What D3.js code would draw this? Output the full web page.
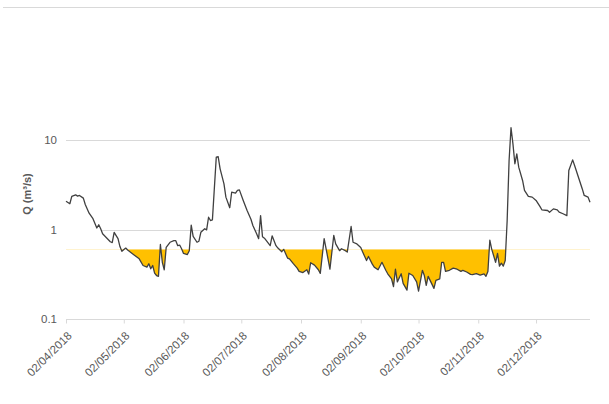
<!DOCTYPE html>
<html><head><meta charset="utf-8">
<script src="https://cdn.jsdelivr.net/npm/d3@7/dist/d3.min.js"></script>
<style>body{margin:0;background:#fff} svg{display:block}</style>
</head><body>
<svg id="c" width="609" height="404"></svg>
<script>
// ---- data ----
const dates = [
"2018-04-02","2018-04-04","2018-04-05","2018-04-07","2018-04-08","2018-04-09","2018-04-11","2018-04-12","2018-04-14","2018-04-16",
"2018-04-18","2018-04-19","2018-04-20","2018-04-21","2018-04-23","2018-04-25","2018-04-26","2018-04-27","2018-04-29","2018-04-30",
"2018-05-01","2018-05-03","2018-05-04","2018-05-07","2018-05-10","2018-05-12","2018-05-14","2018-05-15","2018-05-16","2018-05-17",
"2018-05-18","2018-05-19","2018-05-20","2018-05-21","2018-05-22","2018-05-23","2018-05-24","2018-05-26","2018-05-28","2018-05-29",
"2018-05-30","2018-05-31","2018-06-01","2018-06-02","2018-06-04","2018-06-05","2018-06-06","2018-06-07","2018-06-09","2018-06-10",
"2018-06-11","2018-06-13","2018-06-14","2018-06-15","2018-06-16","2018-06-17","2018-06-19","2018-06-20","2018-06-21","2018-06-23",
"2018-06-24","2018-06-26","2018-06-27","2018-06-29","2018-06-30","2018-07-01","2018-07-03","2018-07-05","2018-07-07","2018-07-08",
"2018-07-10","2018-07-11","2018-07-12","2018-07-13","2018-07-14","2018-07-15","2018-07-17","2018-07-18","2018-07-20","2018-07-21",
"2018-07-23","2018-07-24","2018-07-26","2018-07-27","2018-07-29","2018-07-31","2018-08-01","2018-08-03","2018-08-05","2018-08-06",
"2018-08-07","2018-08-09","2018-08-11","2018-08-12","2018-08-14","2018-08-16","2018-08-17","2018-08-19","2018-08-20","2018-08-22",
"2018-08-23","2018-08-25","2018-08-26","2018-08-28","2018-08-29","2018-08-31","2018-09-02","2018-09-03","2018-09-05","2018-09-06",
"2018-09-08","2018-09-09","2018-09-11","2018-09-13","2018-09-15","2018-09-16","2018-09-18","2018-09-19","2018-09-20","2018-09-21",
"2018-09-23","2018-09-24","2018-09-26","2018-09-27","2018-09-29","2018-10-01","2018-10-02","2018-10-04","2018-10-05","2018-10-06",
"2018-10-07","2018-10-08","2018-10-10","2018-10-11","2018-10-13","2018-10-14","2018-10-15","2018-10-16","2018-10-18","2018-10-20",
"2018-10-22","2018-10-24","2018-10-25","2018-10-27","2018-10-29","2018-10-30","2018-11-01","2018-11-03","2018-11-05","2018-11-06",
"2018-11-07","2018-11-08","2018-11-09","2018-11-11","2018-11-12","2018-11-13","2018-11-14","2018-11-15","2018-11-16","2018-11-17",
"2018-11-18","2018-11-19","2018-11-20","2018-11-21","2018-11-22","2018-11-23","2018-11-25","2018-11-26","2018-11-28","2018-11-30",
"2018-12-02","2018-12-04","2018-12-05","2018-12-08","2018-12-09","2018-12-11","2018-12-13","2018-12-14","2018-12-16","2018-12-18",
"2018-12-19","2018-12-21","2018-12-22","2018-12-24","2018-12-26","2018-12-27","2018-12-29","2018-12-30"
];
const flows = [
2.07,1.94,2.34,2.44,2.36,2.40,2.24,1.90,1.52,1.32,
1.04,1.13,1.02,0.895,0.81,0.73,0.715,0.93,0.79,0.645,
0.57,0.62,0.59,0.526,0.47,0.396,0.38,0.414,0.364,0.396,
0.325,0.306,0.30,0.68,0.43,0.355,0.63,0.72,0.75,0.75,
0.66,0.67,0.61,0.54,0.525,0.58,1.12,0.84,0.72,0.74,
0.93,1.02,0.99,1.37,1.26,1.28,6.43,6.5,4.76,3.24,
2.30,1.75,2.61,2.55,2.73,2.77,2.11,1.63,1.30,1.11,
0.89,0.79,1.43,0.83,0.80,0.75,0.66,0.85,0.66,0.62,
0.565,0.60,0.48,0.47,0.415,0.37,0.34,0.33,0.355,0.318,
0.425,0.40,0.355,0.323,0.79,0.47,0.36,0.86,0.69,0.58,
0.61,0.58,0.56,1.08,0.72,0.69,0.63,0.56,0.45,0.50,
0.41,0.38,0.355,0.43,0.35,0.32,0.28,0.23,0.36,0.26,
0.32,0.25,0.21,0.325,0.306,0.26,0.205,0.35,0.306,0.237,
0.30,0.27,0.22,0.27,0.28,0.43,0.43,0.34,0.35,0.37,
0.36,0.34,0.35,0.335,0.315,0.314,0.322,0.31,0.32,0.30,
0.34,0.76,0.60,0.43,0.54,0.39,0.42,0.39,0.45,1.26,
5.9,13.7,9.05,5.42,7.0,4.97,3.53,2.73,2.34,2.30,
2.11,1.81,1.66,1.63,1.56,1.70,1.66,1.56,1.50,1.43,
4.56,6.0,5.2,3.84,2.84,2.40,2.30,2.02
];
const threshold = 0.6;
const xDomain = ["2018-04-02", "2018-12-30"];
const xTickDates = ["2018-04-02","2018-05-02","2018-06-02","2018-07-02","2018-08-02","2018-09-02","2018-10-02","2018-11-02","2018-12-02"];
const yTickValues = [0.1, 1, 10];
const yTickLabels = ["0.1", "1", "10"];
const yTitle = "Q (m³/s)";

// ---- chart ----
const parse = d3.timeParse("%Y-%m-%d");
const fmt = d3.timeFormat("%d/%m/%Y");
const data = dates.map((d, i) => ({ date: parse(d), v: flows[i] }));

const svg = d3.select("#c");
const left = 66, right = 590, bottom = 319, top10 = 140;
const x = d3.scaleTime().domain(xDomain.map(parse)).range([left, right]);
const y = d3.scaleLog().domain([0.1, 10]).range([bottom, top10]);

const grey = "#d9d9d9", txt = "#595959";

// top border line
svg.append("line").attr("x1", 3).attr("x2", 609).attr("y1", 7.5).attr("y2", 7.5)
  .attr("stroke", grey).attr("stroke-width", 1);

// gridlines
svg.append("g").selectAll("line").data(yTickValues.filter(v => v > 0.1)).join("line")
  .attr("x1", left).attr("x2", right)
  .attr("y1", d => Math.round(y(d)) + 0.5).attr("y2", d => Math.round(y(d)) + 0.5)
  .attr("stroke", grey).attr("stroke-width", 1);

// white area under the curve (hides gridlines)
svg.append("path").datum(data)
  .attr("d", d3.area().x(d => x(d.date)).y0(y(0.1)).y1(d => y(d.v)))
  .attr("fill", "#fff");

// yellow deficit area below threshold
svg.append("clipPath").attr("id", "below")
  .append("rect").attr("x", left).attr("width", right - left)
  .attr("y", y(threshold)).attr("height", bottom - y(threshold));
svg.append("path").datum(data)
  .attr("clip-path", "url(#below)")
  .attr("d", d3.area().x(d => x(d.date)).y0(y(threshold)).y1(d => y(d.v)))
  .attr("fill", "#FFC000");

// x axis
const xAxis = d3.axisBottom(x).tickValues(xTickDates.map(parse)).tickFormat(fmt).tickSize(4).tickSizeOuter(0);
const gx = svg.append("g").attr("transform", `translate(0,${bottom + 0.5})`).call(xAxis);
gx.select(".domain").attr("stroke", grey).attr("d", `M${left},0H${right}`);
gx.selectAll(".tick line").attr("stroke", grey);
gx.selectAll(".tick text")
  .attr("fill", txt).attr("font-family", "Liberation Sans, Arial, sans-serif").attr("font-size", "11.5px")
  .attr("text-anchor", "end").attr("dy", null).attr("y", null)
  .attr("transform", "translate(6,17) rotate(-45)");

// y labels
const yAxis = d3.axisLeft(y).tickValues(yTickValues).tickFormat((d, i) => yTickLabels[i]).tickSize(0).tickPadding(9);
const gy = svg.append("g").attr("transform", `translate(${left},0)`).call(yAxis);
gy.select(".domain").remove();
gy.selectAll(".tick text").attr("fill", txt).attr("font-family", "Liberation Sans, Arial, sans-serif").attr("font-size", "11.5px");

// y title
svg.append("text").attr("transform", "translate(31,194) rotate(-90)")
  .attr("text-anchor", "middle").attr("font-family", "Liberation Sans, Arial, sans-serif")
  .attr("font-weight", "bold").attr("font-size", "11px").attr("fill", txt).text(yTitle);

// flow line
svg.append("path").datum(data)
  .attr("d", d3.line().x(d => x(d.date)).y(d => y(d.v)))
  .attr("fill", "none").attr("stroke", "#404040").attr("stroke-width", 1.3)
  .attr("stroke-linejoin", "round");
</script>
</body></html>
